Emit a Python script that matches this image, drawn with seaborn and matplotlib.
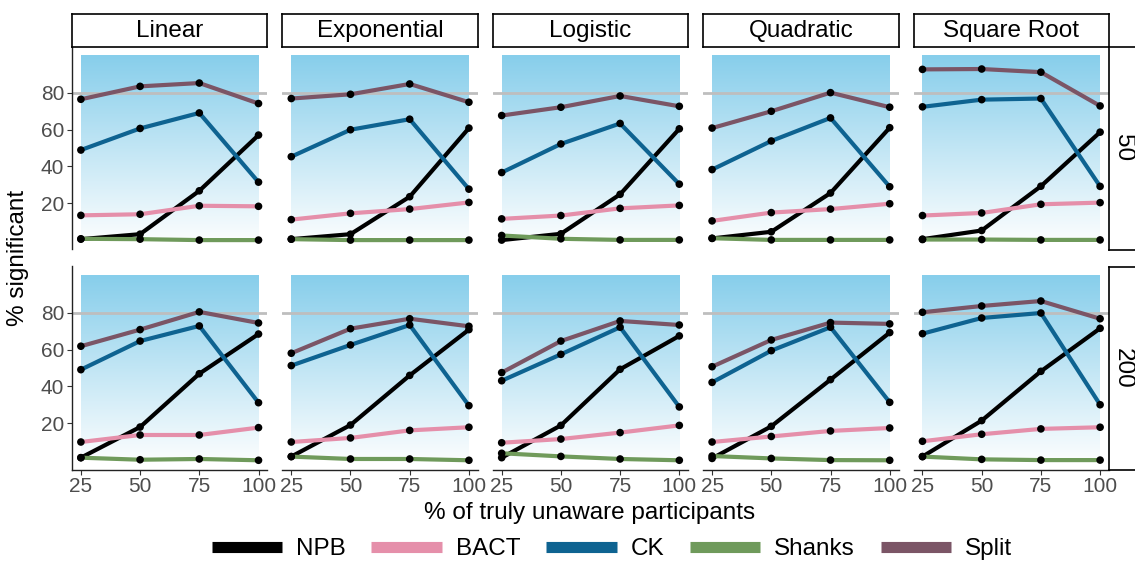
import numpy as np
import pandas as pd
import matplotlib
matplotlib.use("Agg")
import matplotlib.pyplot as plt
from matplotlib.colors import LinearSegmentedColormap
from matplotlib.lines import Line2D
import seaborn as sns

# ---------------- data ----------------
X = [25, 50, 75, 100]
FUNCS = ["Linear", "Exponential", "Logistic", "Quadratic", "Square Root"]
NS = ["50", "200"]
METHODS = ["NPB", "BACT", "CK", "Shanks", "Split"]
COLORS = ["#000000", "#E58FAA", "#0E6391", "#6F9A5B", "#7B5566"]

# rows: Linear, Exponential, Logistic, Quadratic, Square Root
NPB_50 = [[0.6, 3.3, 26.8, 57.0], [0.6, 3.3, 23.6, 60.8], [0.1, 3.5, 24.9, 60.4],
          [1.0, 4.6, 25.6, 61.0], [0.6, 5.3, 29.3, 58.6]]
BACT_50 = [[13.5, 14.1, 18.7, 18.4], [11.2, 14.6, 16.9, 20.5], [11.6, 13.4, 17.3, 18.9],
           [10.5, 15.0, 16.9, 19.8], [13.4, 14.8, 19.5, 20.4]]
CK_50 = [[48.9, 60.6, 69.0, 31.5], [45.3, 59.9, 65.6, 27.7], [36.7, 52.2, 63.3, 30.4],
         [38.3, 53.8, 66.3, 29.0], [72.3, 76.2, 76.8, 29.2]]
SHANKS_50 = [[0.8, 0.6, 0.1, 0.1], [0.6, 0.1, 0.1, 0.1], [2.6, 0.8, 0.2, 0.2],
             [1.1, 0.2, 0.2, 0.2], [0.4, 0.4, 0.2, 0.2]]
SPLIT_50 = [[76.4, 83.4, 85.2, 74.1], [76.8, 79.1, 84.7, 74.8], [67.6, 72.1, 78.2, 72.6],
            [60.8, 69.9, 80.0, 72.1], [92.6, 92.8, 91.1, 72.8]]

NPB_200 = [[1.4, 18.0, 46.9, 68.4], [2.0, 19.1, 46.0, 70.8], [1.4, 18.9, 49.3, 67.4],
           [1.0, 18.4, 43.7, 69.2], [2.0, 21.5, 48.2, 71.5]]
BACT_200 = [[9.9, 13.7, 13.7, 17.7], [9.9, 12.1, 16.2, 17.9], [9.5, 11.5, 15.0, 18.9],
            [9.9, 12.9, 15.9, 17.5], [10.3, 14.1, 17.0, 17.9]]
CK_200 = [[49.1, 64.6, 72.8, 31.2], [51.3, 62.5, 73.3, 29.6], [43.1, 57.4, 72.1, 28.9],
          [42.2, 59.4, 72.1, 31.4], [68.6, 77.1, 79.8, 30.1]]
SHANKS_200 = [[1.4, 0.3, 0.7, 0.0], [2.0, 0.7, 0.7, 0.0], [3.8, 2.1, 0.7, 0.0],
              [2.3, 1.0, 0.1, 0.0], [2.0, 0.5, 0.1, 0.1]]
SPLIT_200 = [[61.8, 70.8, 80.4, 74.4], [58.0, 71.3, 76.7, 72.6], [47.5, 64.6, 75.5, 73.3],
             [50.7, 65.2, 74.6, 73.9], [80.2, 83.6, 86.3, 76.7]]

Y_TICKS = [20, 40, 60, 80]
X_TICKS = [25, 50, 75, 100]
THRESHOLD = 80

# ---------------- long table ----------------
tables = {
    "50": [NPB_50, BACT_50, CK_50, SHANKS_50, SPLIT_50],
    "200": [NPB_200, BACT_200, CK_200, SHANKS_200, SPLIT_200],
}
rows = []
for n in NS:
    for m, arr in zip(METHODS, tables[n]):
        for fi, f in enumerate(FUNCS):
            for x, v in zip(X, arr[fi]):
                rows.append(dict(n=n, method=m, func=f, x=x, y=v))
df = pd.DataFrame(rows)

# ---------------- figure ----------------
sns.set_theme(style="white")
plt.rcParams["font.family"] = ["Liberation Sans", "DejaVu Sans"]
plt.rcParams["text.color"] = "black"

W, H = 1135, 562
fig = plt.figure(figsize=(W / 100, H / 100), dpi=100)

def fa(l, t, w, h):
    return [l / W, 1 - (t + h) / H, w / W, h / H]

pw, gap = 195.4, 15.0
lefts = [72 + i * (pw + gap) for i in range(5)]
row_tops = [46.5, 266.5]
ph = 203.0

grad_cmap = LinearSegmentedColormap.from_list("g", ["#FBFDFE", "#87CEEB"])
grad = np.linspace(0, 1, 256).reshape(-1, 1)
palette = dict(zip(METHODS, COLORS))

for ri, n in enumerate(NS):
    for ci, f in enumerate(FUNCS):
        ax = fig.add_axes(fa(lefts[ci], row_tops[ri], pw, ph))
        ax.imshow(grad, extent=[25, 100, 0, 100], origin="lower", cmap=grad_cmap,
                  aspect="auto", zorder=0, interpolation="bilinear")
        ax.axhline(THRESHOLD, color="#BEBEBE", lw=2.0, zorder=1)
        sub = df[(df.n == n) & (df.func == f)]
        sns.lineplot(data=sub, x="x", y="y", hue="method", hue_order=METHODS,
                     palette=palette, linewidth=3.0, legend=False, ax=ax,
                     sort=False, estimator=None, zorder=2)
        sns.scatterplot(data=sub, x="x", y="y", color="black", s=30,
                        edgecolor="none", legend=False, ax=ax, zorder=5)
        ax.set_xlim(21.25, 103.75)
        ax.set_ylim(-5, 105)
        ax.set_xlabel("")
        ax.set_ylabel("")
        ax.set_facecolor("white")
        for s in ["top", "right"]:
            ax.spines[s].set_visible(False)
        ax.spines["left"].set_visible(ci == 0)
        ax.spines["bottom"].set_visible(ri == 1)
        for s in ["left", "bottom"]:
            ax.spines[s].set_color("#222222")
            ax.spines[s].set_linewidth(1.0)
        ax.set_yticks(Y_TICKS)
        ax.set_xticks(X_TICKS)
        ax.tick_params(axis="both", length=3.5, width=0.8, color="#333333",
                       labelsize=15, labelcolor="#4D4D4D", pad=2)
        ax.tick_params(axis="y", left=(ci == 0), labelleft=(ci == 0))
        ax.tick_params(axis="x", bottom=(ri == 1), labelbottom=(ri == 1))

        # top strips
        if ri == 0:
            sax = fig.add_axes(fa(lefts[ci], 14, pw, 32.5))
            sax.set_xticks([]); sax.set_yticks([])
            sax.set_facecolor("white")
            for s in sax.spines.values():
                s.set_color("black"); s.set_linewidth(1.2)
            sax.text(0.5, 0.47, f, ha="center", va="center", fontsize=17.5,
                     color="black", transform=sax.transAxes)
    # right strips
    rax = fig.add_axes(fa(1109, row_tops[ri], 40, ph))
    rax.set_xticks([]); rax.set_yticks([])
    rax.set_facecolor("white")
    for s in rax.spines.values():
        s.set_color("black"); s.set_linewidth(1.2)
    rax.text(14 / 40, 0.5, n, ha="center", va="center", fontsize=17.5,
             rotation=-90, color="black", transform=rax.transAxes)

fig.text(590 / W, 1 - 513 / H, "% of truly unaware participants", ha="center",
         va="center", fontsize=17.5, color="black")
fig.text(18 / W, 1 - 258 / H, "% significant", ha="center", va="center",
         rotation=90, fontsize=17.5, color="black")

handles = [Line2D([0], [0], color=c, lw=8, solid_capstyle="butt") for c in COLORS]
leg = fig.legend(handles, METHODS, loc="center", bbox_to_anchor=(612 / W, 1 - 549 / H),
                 ncol=5, frameon=False, fontsize=17.5, handlelength=2.9,
                 handletextpad=0.58, columnspacing=1.05)
for t in leg.get_texts():
    t.set_color("black")

fig.savefig("out.png", dpi=100)
